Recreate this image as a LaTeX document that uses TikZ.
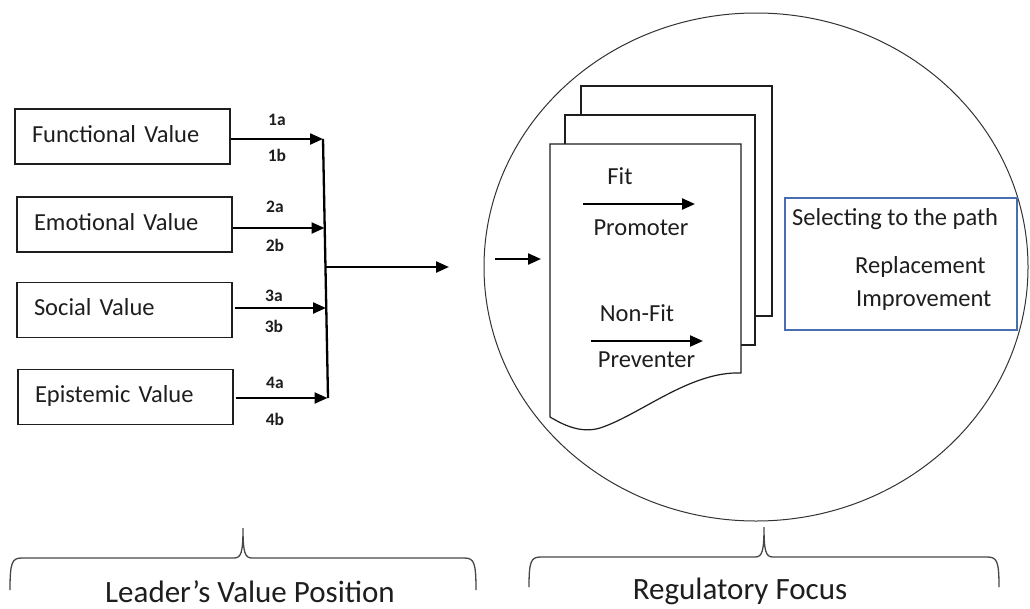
\documentclass[tikz,border=0pt]{standalone}
\usepackage{fontspec}
\setmainfont{Carlito}
\usetikzlibrary{arrows.meta,shapes.geometric}
\definecolor{ink}{HTML}{1E1E1E}
\definecolor{selblue}{HTML}{4A6DB0}
\begin{document}
\begin{tikzpicture}[x=1pt,y=-1pt,
  vbox/.style={draw=ink, line width=1.2pt, fill=white, minimum width=215pt,
    minimum height=55pt, inner sep=0pt, text width=181pt, align=left,
    font=\fontsize{24.5}{28}\selectfont, text=ink, text height=17pt, text depth=5.5pt},
  flow/.style={draw=black, line width=2.3pt, -{Triangle[length=13pt,width=11pt]}},
  tag/.style={font=\bfseries\fontsize{17.5}{20}\selectfont, text=ink, anchor=base, inner sep=0pt},
  txt/.style={font=\fontsize{24.5}{28}\selectfont, text=ink, inner sep=0pt},
  big/.style={font=\fontsize{31}{36}\selectfont, text=ink, anchor=base, inner sep=0pt},
  brace/.style={draw=black!72, line width=1.3pt},
  page/.style={draw=ink, line width=1.2pt, fill=white}]

\useasboundingbox (0,0) rectangle (1030,608);
\fill[white] (0,0) rectangle (1030,608);

% ---------- value boxes ----------
\node[vbox] (fv) at (122.5,136.5) {Functional Value};
\node[vbox] (ev) at (124.5,224.5) {Emotional Value};
\node[vbox] (sv) at (124.5,310)   {Social Value};
\node[vbox] (pv) at (125.5,397)   {Epistemic Value};

% collecting bar
\coordinate (jtop) at (323,139);
\coordinate (jbot) at (328,398);
\coordinate (j1) at (323,139);
\coordinate (j2) at (324.5,228);
\coordinate (j3) at (326,308);
\coordinate (j4) at (327.5,398);
\coordinate (jmid) at (326,267);
\coordinate (out) at (449,267);

\draw[line width=2.3pt] (jtop) -- (jbot);
\draw[flow] (fv.east |- j1) -- (j1);
\draw[flow] (ev.east |- j2) -- (j2);
\draw[flow] ([xshift=2pt]sv.east |- j3) -- (j3);
\draw[flow] ([xshift=2pt]pv.east |- j4) -- (j4);
\draw[flow] (jmid) -- (out);

% path labels
\node[tag] (l1a) at (277,125) {1a};
\node[tag] (l1b) at (277,161) {1b};
\node[tag] (l2a) at (275,212) {2a};
\node[tag] (l2b) at (275,251) {2b};
\node[tag] (l3a) at (274,301) {3a};
\node[tag] (l3b) at (274,332) {3b};
\node[tag] (l4a) at (275,388) {4a};
\node[tag] (l4b) at (275,425) {4b};

% ---------- regulatory focus ----------
\node[draw=black!80, line width=1pt, ellipse, minimum width=544pt,
  minimum height=508pt, inner sep=0pt] (focus) at (756,267) {};

% stacked pages
\draw[page] (581,86) rectangle (772,316);
\draw[page] (565,115) rectangle (755,345);
\draw[page] (550,144) -- (741,144) -- (741,373)
  .. controls (690,371) and (640,415) .. (600,428)
  .. controls (580,434) and (562,424) .. (550,417) -- cycle;
\coordinate (pagein) at (541,259);
\coordinate (feed) at (495,259);
\draw[flow] (feed) -- (pagein);

\node[txt, anchor=base] (fit) at (620,184) {Fit};
\coordinate (fa) at (583,204);
\coordinate (fb) at (695,204);
\draw[flow] (fa) -- (fb);
\node[txt, anchor=base] (prom) at (641,235) {Promoter};

\node[txt, anchor=base] (nfit) at (637,321) {Non-Fit};
\coordinate (na) at (591,341);
\coordinate (nb) at (703,341);
\draw[flow] (na) -- (nb);
\node[txt, anchor=base] (prev) at (646.5,367) {Preventer};

% path selection box
\node[draw=selblue, line width=1.3pt, fill=white, minimum width=232pt,
  minimum height=132pt, inner sep=0pt] (sel) at (901,264) {};
\node[txt, anchor=base west] (selt) at (792,225) {Selecting to the path};
\node[txt, anchor=base west] (repl) at (855,273) {Replacement};
\node[txt, anchor=base west] (impr) at (856,306) {Improvement};

% ---------- braces ----------
\draw[brace] (10,590) .. controls (10,562) and (12,558) .. (22,558) -- (234,558)
  .. controls (241,558) and (243,553) .. (243,528)
  .. controls (243,553) and (245,558) .. (252,558) -- (464,558)
  .. controls (474,558) and (476,562) .. (476,590);
\draw[brace] (529,587) .. controls (529,561) and (531,557) .. (541,557) -- (755,557)
  .. controls (762,557) and (764,552) .. (764,527)
  .. controls (764,552) and (766,557) .. (773,557) -- (987,557)
  .. controls (997,557) and (999,561) .. (999,587);

\node[big] (lvp) at (250,602) {Leader’s Value Position};
\node[big] (rf)  at (740,599) {Regulatory Focus};
\end{tikzpicture}
\end{document}
